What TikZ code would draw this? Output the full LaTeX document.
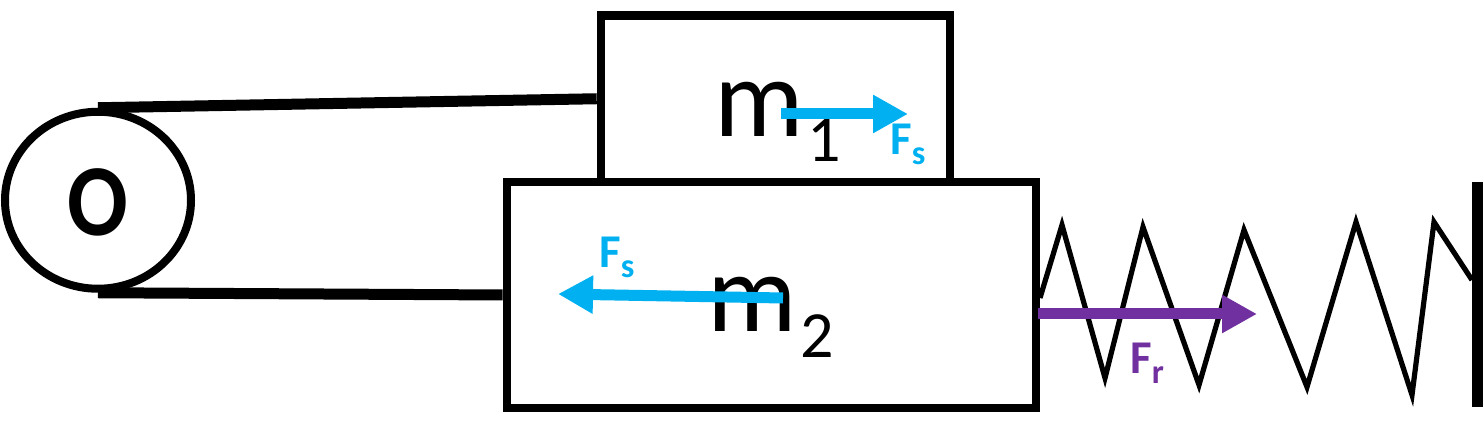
\documentclass[tikz,border=0pt]{standalone}
\usepackage{fontspec}
\setmainfont{Carlito}
\usetikzlibrary{arrows.meta,shapes.geometric}
\definecolor{fcyan}{HTML}{00B0F0}
\definecolor{fpurple}{HTML}{7030A0}
\begin{document}
\begin{tikzpicture}[x=0.5pt,y=-0.5pt,
  boxstyle/.style={draw=black,line width=4.3pt,inner sep=0pt,rectangle},
  beltstyle/.style={line width=5.5pt},
  springstyle/.style={line width=2.6pt,line join=miter},
  forcearrow/.style={line width=5.5pt,-{Triangle[length=17.5pt,width=18pt]}},
  masslabel/.style={anchor=base west,inner sep=0pt,font=\fontsize{56}{56}\selectfont},
  forcelabel/.style={anchor=base west,inner sep=0pt,font=\bfseries\fontsize{23.5}{24}\selectfont}]
\useasboundingbox (0,0) rectangle (1484,426);
% pulley
\node[draw,ellipse,line width=4pt,minimum width=93pt,minimum height=88.5pt,inner sep=0pt] (pulley) at (98,200.25) {};
\node[inner sep=0pt,font=\bfseries\fontsize{51}{51}\selectfont] (olab) at (97.5,202) {\scalebox{0.88}[1]{O}};
% masses
\node[boxstyle,minimum width=174.5pt,minimum height=83.25pt] (m1) at (775.5,98.75) {};
\node[boxstyle,minimum width=264.5pt,minimum height=113pt] (m2) at (771.5,295) {};
% belt
\draw[beltstyle] (pulley.north) -- (m1.west);
\draw[beltstyle] (pulley.south) -- (m2.west);
% mass labels
\node[masslabel] (m1lab) at (714,137) {m\kern2pt\raisebox{-12.5pt}{\fontsize{33}{33}\selectfont 1}};
\node[masslabel] (m2lab) at (707,332) {m\kern2pt\raisebox{-13pt}{\fontsize{33}{33}\selectfont 2}};
% spring
\coordinate (sp0) at (1040,298);
\coordinate (wallc) at (1472,280);
\draw[springstyle] (sp0) -- (1062,225) -- (1105,378) -- (1143,227) -- (1199,385)
  -- (1244,230) -- (1307,387) -- (1356,222) -- (1412,395) -- (1434,222) -- (wallc);
% wall
\coordinate (wtop) at (1477,182);
\coordinate (wbot) at (1477,407);
\draw[line width=5.5pt] (wtop) -- (wbot);
% forces
\coordinate (fa1) at (781,114);
\coordinate (fb1) at (908,114);
\draw[forcearrow,fcyan] (fa1) -- (fb1);
\coordinate (fa2) at (783,298);
\coordinate (fb2) at (558,294);
\draw[forcearrow,fcyan] (fa2) -- (fb2);
\coordinate (fa3) at (1038,314);
\coordinate (fb3) at (1257,314);
\draw[forcearrow,fpurple] (fa3) -- (fb3);
% force labels
\node[forcelabel,text=fcyan] (fs1) at (890,155) {F\raisebox{-5pt}{\fontsize{17}{17}\selectfont s}};
\node[forcelabel,text=fcyan] (fs2) at (599,268) {F\raisebox{-5pt}{\fontsize{17}{17}\selectfont s}};
\node[forcelabel,text=fpurple] (fr) at (1130,374) {F\raisebox{-5pt}{\fontsize{17}{17}\selectfont r}};
\end{tikzpicture}
\end{document}
